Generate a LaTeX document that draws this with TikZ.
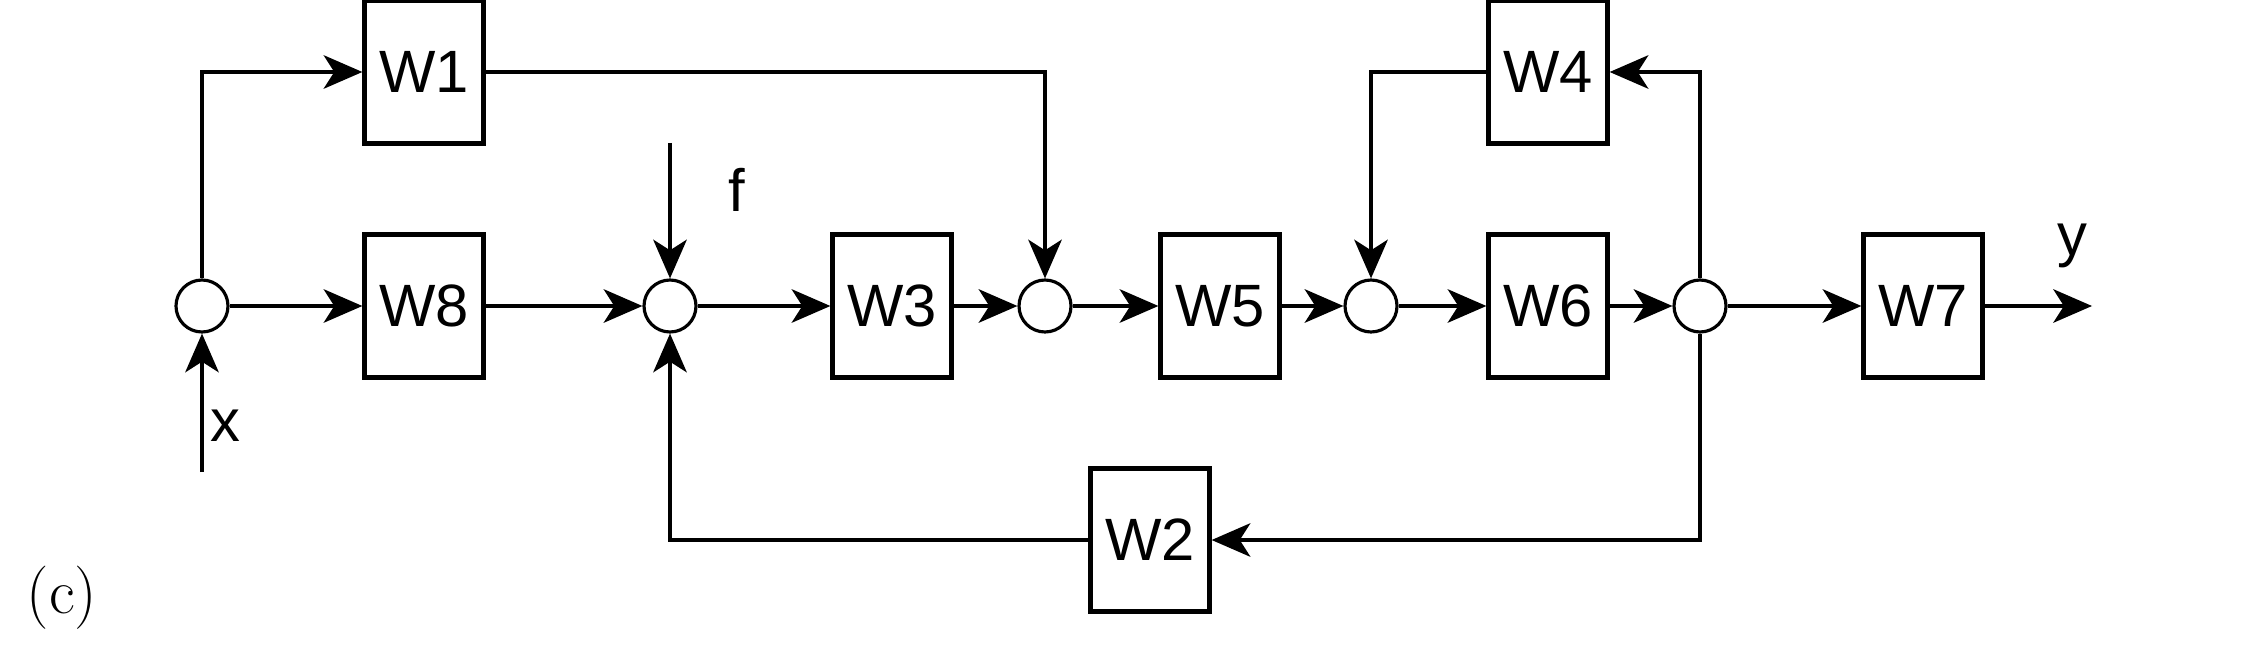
\documentclass[tikz,border=0pt]{standalone}
\usepackage{fontspec}
\newfontfamily\arialfont{Liberation Sans}
\usetikzlibrary{arrows.meta,positioning}

\begin{document}
\begin{tikzpicture}[x=1cm,y=1cm,line width=1.2pt,
    block/.style={draw,minimum width=1.19cm,minimum height=1.43cm,inner sep=0pt,font=\arialfont\fontsize{17}{20}\selectfont},
    sum/.style={circle,draw,line width=0.9pt,minimum size=0.52cm,inner sep=0pt},
    lbl/.style={inner sep=0pt,font=\arialfont\fontsize{17}{20}\selectfont},
    >={Stealth[length=11pt,width=9.5pt,inset=3pt]}]
  \useasboundingbox (0,0) rectangle (22.44,6.52);
  \foreach \n/\x in {0/2.02,1/6.70,2/10.45,3/13.71,4/17.00} \node[sum] (j\n) at (\x,3.46) {};
  \foreach \n/\x in {8/4.24,3/8.92,5/12.20,6/15.48,7/19.23} \node[block] (w\n) at (\x,3.46) {W\n};
  \node[block] (w1) at (4.24,5.80) {W1};
  \node[block] (w4) at (15.48,5.80) {W4};
  \node[block] (w2) at (11.50,1.12) {W2};
  \coordinate (xin) at (2.02,1.80);
  \coordinate (fin) at (6.70,5.09);
  \coordinate (yout) at (20.92,3.46);
  \node[lbl] (xl) at (2.25,2.26) {x};
  \node[lbl] (fl) at (7.37,4.62) {f};
  \node[lbl] (yl) at (20.72,4.06) {y};
  \node[inner sep=0pt,font=\fontsize{18}{22}\selectfont] (cl) at (0.62,0.54) {(c)};
  \foreach \a/\b in {j0/w8,w8/j1,j1/w3,w3/j2,j2/w5,w5/j3,j3/w6,w6/j4,j4/w7,w7/yout} \draw[->] (\a) -- (\b);
  \draw[->] (xin) -- (j0);
  \draw[->] (fin) -- (j1);
  \draw[->] (j0) |- (w1);
  \draw[->] (w1) -| (j2);
  \draw[->] (w4) -| (j3);
  \draw[->] (j4) |- (w4);
  \draw[->] (j4) |- (w2);
  \draw[->] (w2) -| (j1);
\end{tikzpicture}
\end{document}
